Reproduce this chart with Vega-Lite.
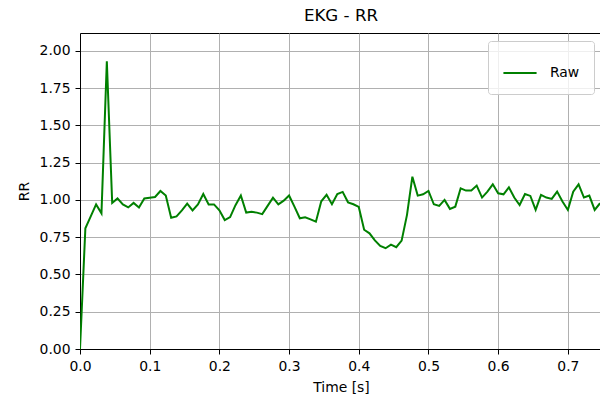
{
  "$schema": "https://vega.github.io/schema/vega-lite/v6.json",
  "autosize": {"type": "none"},
  "width": 522,
  "height": 316,
  "padding": {"left": 80, "top": 33, "right": 0, "bottom": 51},
  "background": "white",
  "title": {
    "text": "EKG - RR",
    "font": "DejaVu Sans",
    "fontSize": 16.7,
    "fontWeight": "normal",
    "color": "black",
    "anchor": "middle",
    "offset": 8
  },
  "config": {
    "view": {"stroke": "black", "strokeWidth": 1},
    "axis": {
      "labelFont": "DejaVu Sans",
      "titleFont": "DejaVu Sans",
      "labelFontSize": 13.9,
      "titleFontSize": 13.9,
      "titleFontWeight": "normal",
      "labelColor": "black",
      "titleColor": "black",
      "domainColor": "black",
      "tickColor": "black",
      "tickSize": 5,
      "labelPadding": 5,
      "labelFlush": false,
      "labelOverlap": false,
      "gridColor": "#b0b0b0",
      "gridWidth": 1,
      "gridOpacity": 1
    },
    "legend": {
      "labelFont": "DejaVu Sans",
      "labelFontSize": 13.9,
      "labelColor": "black"
    }
  },
  "data": {
    "values": [
      {"t": 0, "rr": 0, "series": "Raw"},
      {"t": 0.0077, "rr": 0.81, "series": "Raw"},
      {"t": 0.0154, "rr": 0.89, "series": "Raw"},
      {"t": 0.0231, "rr": 0.97, "series": "Raw"},
      {"t": 0.0308, "rr": 0.91, "series": "Raw"},
      {"t": 0.0385, "rr": 1.93, "series": "Raw"},
      {"t": 0.0462, "rr": 0.98, "series": "Raw"},
      {"t": 0.0538, "rr": 1.01, "series": "Raw"},
      {"t": 0.0615, "rr": 0.97, "series": "Raw"},
      {"t": 0.0692, "rr": 0.95, "series": "Raw"},
      {"t": 0.0769, "rr": 0.98, "series": "Raw"},
      {"t": 0.0846, "rr": 0.95, "series": "Raw"},
      {"t": 0.0923, "rr": 1.01, "series": "Raw"},
      {"t": 0.1, "rr": 1.015, "series": "Raw"},
      {"t": 0.1077, "rr": 1.02, "series": "Raw"},
      {"t": 0.1154, "rr": 1.06, "series": "Raw"},
      {"t": 0.1231, "rr": 1.03, "series": "Raw"},
      {"t": 0.1308, "rr": 0.88, "series": "Raw"},
      {"t": 0.1385, "rr": 0.89, "series": "Raw"},
      {"t": 0.1462, "rr": 0.93, "series": "Raw"},
      {"t": 0.1538, "rr": 0.975, "series": "Raw"},
      {"t": 0.1615, "rr": 0.93, "series": "Raw"},
      {"t": 0.1692, "rr": 0.97, "series": "Raw"},
      {"t": 0.1769, "rr": 1.04, "series": "Raw"},
      {"t": 0.1846, "rr": 0.97, "series": "Raw"},
      {"t": 0.1923, "rr": 0.97, "series": "Raw"},
      {"t": 0.2, "rr": 0.93, "series": "Raw"},
      {"t": 0.2077, "rr": 0.865, "series": "Raw"},
      {"t": 0.2154, "rr": 0.885, "series": "Raw"},
      {"t": 0.2231, "rr": 0.965, "series": "Raw"},
      {"t": 0.2308, "rr": 1.03, "series": "Raw"},
      {"t": 0.2385, "rr": 0.915, "series": "Raw"},
      {"t": 0.2462, "rr": 0.92, "series": "Raw"},
      {"t": 0.2538, "rr": 0.915, "series": "Raw"},
      {"t": 0.2615, "rr": 0.905, "series": "Raw"},
      {"t": 0.2692, "rr": 0.96, "series": "Raw"},
      {"t": 0.2769, "rr": 1.015, "series": "Raw"},
      {"t": 0.2846, "rr": 0.97, "series": "Raw"},
      {"t": 0.2923, "rr": 0.995, "series": "Raw"},
      {"t": 0.3, "rr": 1.03, "series": "Raw"},
      {"t": 0.3077, "rr": 0.955, "series": "Raw"},
      {"t": 0.3154, "rr": 0.877, "series": "Raw"},
      {"t": 0.3231, "rr": 0.884, "series": "Raw"},
      {"t": 0.3308, "rr": 0.87, "series": "Raw"},
      {"t": 0.3385, "rr": 0.854, "series": "Raw"},
      {"t": 0.3462, "rr": 0.991, "series": "Raw"},
      {"t": 0.3538, "rr": 1.034, "series": "Raw"},
      {"t": 0.3615, "rr": 0.971, "series": "Raw"},
      {"t": 0.3692, "rr": 1.04, "series": "Raw"},
      {"t": 0.3769, "rr": 1.054, "series": "Raw"},
      {"t": 0.3846, "rr": 0.984, "series": "Raw"},
      {"t": 0.3923, "rr": 0.971, "series": "Raw"},
      {"t": 0.4, "rr": 0.953, "series": "Raw"},
      {"t": 0.4077, "rr": 0.8, "series": "Raw"},
      {"t": 0.4154, "rr": 0.776, "series": "Raw"},
      {"t": 0.4231, "rr": 0.729, "series": "Raw"},
      {"t": 0.4308, "rr": 0.691, "series": "Raw"},
      {"t": 0.4385, "rr": 0.676, "series": "Raw"},
      {"t": 0.4462, "rr": 0.7, "series": "Raw"},
      {"t": 0.4538, "rr": 0.683, "series": "Raw"},
      {"t": 0.4615, "rr": 0.727, "series": "Raw"},
      {"t": 0.4692, "rr": 0.9, "series": "Raw"},
      {"t": 0.4769, "rr": 1.156, "series": "Raw"},
      {"t": 0.4846, "rr": 1.029, "series": "Raw"},
      {"t": 0.4923, "rr": 1.038, "series": "Raw"},
      {"t": 0.5, "rr": 1.06, "series": "Raw"},
      {"t": 0.5077, "rr": 0.971, "series": "Raw"},
      {"t": 0.5154, "rr": 0.96, "series": "Raw"},
      {"t": 0.5231, "rr": 1.0, "series": "Raw"},
      {"t": 0.5308, "rr": 0.94, "series": "Raw"},
      {"t": 0.5385, "rr": 0.955, "series": "Raw"},
      {"t": 0.5462, "rr": 1.078, "series": "Raw"},
      {"t": 0.5538, "rr": 1.063, "series": "Raw"},
      {"t": 0.5615, "rr": 1.063, "series": "Raw"},
      {"t": 0.5692, "rr": 1.096, "series": "Raw"},
      {"t": 0.5769, "rr": 1.016, "series": "Raw"},
      {"t": 0.5846, "rr": 1.056, "series": "Raw"},
      {"t": 0.5923, "rr": 1.105, "series": "Raw"},
      {"t": 0.6, "rr": 1.045, "series": "Raw"},
      {"t": 0.6077, "rr": 1.038, "series": "Raw"},
      {"t": 0.6154, "rr": 1.085, "series": "Raw"},
      {"t": 0.6231, "rr": 1.016, "series": "Raw"},
      {"t": 0.6308, "rr": 0.966, "series": "Raw"},
      {"t": 0.6385, "rr": 1.04, "series": "Raw"},
      {"t": 0.6462, "rr": 1.027, "series": "Raw"},
      {"t": 0.6538, "rr": 0.933, "series": "Raw"},
      {"t": 0.6615, "rr": 1.034, "series": "Raw"},
      {"t": 0.6692, "rr": 1.016, "series": "Raw"},
      {"t": 0.6769, "rr": 1.007, "series": "Raw"},
      {"t": 0.6846, "rr": 1.056, "series": "Raw"},
      {"t": 0.6923, "rr": 0.989, "series": "Raw"},
      {"t": 0.7, "rr": 0.933, "series": "Raw"},
      {"t": 0.7077, "rr": 1.056, "series": "Raw"},
      {"t": 0.7154, "rr": 1.105, "series": "Raw"},
      {"t": 0.7231, "rr": 1.016, "series": "Raw"},
      {"t": 0.7308, "rr": 1.029, "series": "Raw"},
      {"t": 0.7385, "rr": 0.933, "series": "Raw"},
      {"t": 0.7462, "rr": 0.978, "series": "Raw"}
    ]
  },
  "mark": {"type": "line", "strokeWidth": 2, "clip": true},
  "encoding": {
    "x": {
      "field": "t",
      "type": "quantitative",
      "scale": {"domain": [0, 0.749], "nice": false, "zero": false},
      "axis": {
        "title": "Time [s]",
        "values": [0, 0.1, 0.2, 0.3, 0.4, 0.5, 0.6, 0.7],
        "format": ".1f",
        "titlePadding": 8
      }
    },
    "y": {
      "field": "rr",
      "type": "quantitative",
      "scale": {"domain": [0, 2.12], "nice": false},
      "axis": {
        "title": "RR",
        "values": [0, 0.25, 0.5, 0.75, 1.0, 1.25, 1.5, 1.75, 2.0],
        "format": ".2f",
        "titlePadding": 8
      }
    },
    "color": {
      "field": "series",
      "type": "nominal",
      "scale": {"domain": ["Raw"], "range": ["#008000"]},
      "legend": {
        "title": null,
        "orient": "top-right",
        "offset": 8,
        "padding": 14,
        "symbolType": "stroke",
        "symbolSize": 1100,
        "symbolStrokeWidth": 2,
        "labelOffset": 12,
        "strokeColor": "#cccccc",
        "fillColor": "rgba(255,255,255,0.8)",
        "cornerRadius": 3
      }
    }
  }
}
